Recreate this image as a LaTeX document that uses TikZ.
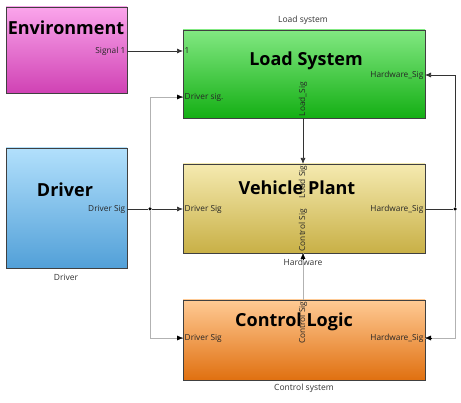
\documentclass[tikz,border=0pt]{standalone}
\usepackage{fontspec}
\setmainfont{Open Sans}
\usepackage{xcolor}
\usetikzlibrary{arrows.meta}
\definecolor{envtop}{RGB}{250,165,235}
\definecolor{envbot}{RGB}{208,66,180}
\definecolor{loadtop}{RGB}{130,232,130}
\definecolor{loadbot}{RGB}{20,175,20}
\definecolor{drvtop}{RGB}{178,224,252}
\definecolor{drvbot}{RGB}{82,160,216}
\definecolor{vehtop}{RGB}{245,234,176}
\definecolor{vehbot}{RGB}{200,176,70}
\definecolor{ctltop}{RGB}{255,202,148}
\definecolor{ctlbot}{RGB}{224,112,16}
\begin{document}
\begin{tikzpicture}[x=1pt,y=-1pt]
\tikzstyle{block} = [rectangle, draw=black!75, line width=0.8pt, inner sep=0pt]
\tikzstyle{envblock} = [block, top color=envtop, bottom color=envbot, minimum width=121pt, minimum height=86pt]
\tikzstyle{loadblock} = [block, top color=loadtop, bottom color=loadbot, minimum width=242pt, minimum height=88pt]
\tikzstyle{drvblock} = [block, top color=drvtop, bottom color=drvbot, minimum width=121pt, minimum height=120pt]
\tikzstyle{vehblock} = [block, top color=vehtop, bottom color=vehbot, minimum width=242pt, minimum height=89pt]
\tikzstyle{ctlblock} = [block, top color=ctltop, bottom color=ctlbot, minimum width=242pt, minimum height=80pt]
\tikzstyle{title} = [font=\bfseries\fontsize{18}{20}\selectfont, inner sep=0pt]
\tikzstyle{port} = [font=\fontsize{8.3}{9}\selectfont, inner sep=1.5pt, text=black!85]
\tikzstyle{caption} = [font=\fontsize{8.5}{10}\selectfont, inner sep=0pt, text=black!80]
\tikzstyle{sig} = [line width=0.7pt, black!80, -{Latex[length=6pt,width=5pt]}]
\tikzstyle{branch} = [line width=0.7pt, black!30]
\tikzstyle{tip} = [-{Latex[length=6pt,width=5pt]}, black]
\tikzstyle{dot} = [circle, fill=black, inner sep=0pt, minimum size=3.5pt]

\useasboundingbox (0,0) rectangle (461,403);

% blocks
\node(environment) [envblock] at (66.5,50) {};
\node(loadSystem) [loadblock] at (304,74) {};
\node(driver) [drvblock] at (66.5,208) {};
\node(vehiclePlant) [vehblock] at (304,208.5) {};
\node(controlLogic) [ctlblock] at (304,340) {};

\node(envTitle) [title] at (66,28) {Environment};
\node(loadTitle) [title] at (306,61) {Load System};
\node(drvTitle) [title] at (65,190) {Driver};
\node(vehTitle) [title] at (297,188) {Vehicle Plant};
\node(ctlTitle) [title] at (294,322) {Control Logic};

\node(loadCap) [caption] at (303,20) {Load system};
\node(drvCap) [caption] at (66,277) {Driver};
\node(vehCap) [caption] at (303,262) {Hardware};
\node(ctlCap) [caption] at (304,388) {Control system};

% ports
\node(envOutLbl) [port, anchor=east] at (127,51) {Signal 1};
\node(loadIn1Lbl) [port, anchor=west] at (183,51) {1};
\node(loadIn2Lbl) [port, anchor=west] at (183,97) {Driver sig.};
\node(loadHwLbl) [port, anchor=east] at (425,75) {Hardware\_Sig};
\node(loadOutLbl) [port, anchor=west, rotate=90] at (303,118) {Load\_Sig};
\node(drvOutLbl) [port, anchor=east] at (127,209) {Driver Sig};
\node(vehInLbl) [port, anchor=west] at (183,209) {Driver Sig};
\node(vehOutLbl) [port, anchor=east] at (425,209) {Hardware\_Sig};
\node(vehTopLbl) [port, anchor=east, rotate=90] at (303,164) {Load Sig};
\node(vehBotLbl) [port, anchor=west, rotate=90] at (303,253) {Control Sig};
\node(ctlInLbl) [port, anchor=west] at (183,338) {Driver Sig};
\node(ctlHwLbl) [port, anchor=east] at (425,338) {Hardware\_Sig};
\node(ctlTopLbl) [port, anchor=east, rotate=90] at (303,300) {Control Sig};

% connection points
\coordinate(envOut) at (127,51);
\coordinate(loadIn1) at (183,51);
\coordinate(loadIn2) at (183,97);
\coordinate(loadHw) at (425,75);
\coordinate(loadOut) at (303,118);
\coordinate(drvOut) at (127,209);
\coordinate(vehIn) at (183,209);
\coordinate(vehOut) at (425,209);
\coordinate(vehTop) at (303,164);
\coordinate(vehBot) at (303,253);
\coordinate(ctlIn) at (183,338);
\coordinate(ctlHw) at (425,338);
\coordinate(ctlTop) at (303,300);
\node(drvSplit) [dot] at (150,209) {};
\node(hwSplit) [dot] at (455,209) {};

% signals
\draw[sig] (envOut) -- (loadIn1);
\draw[line width=0.7pt, black!80] (drvOut) -- (drvSplit);
\draw[sig] (drvSplit) -- (vehIn);
\draw[branch] (drvSplit) |- (loadIn2);
\draw[branch] (drvSplit) |- (ctlIn);
\draw[tip] (loadIn2) ++(-6,0) -- (loadIn2);
\draw[tip] (ctlIn) ++(-6,0) -- (ctlIn);
\draw[sig] (loadOut) -- (vehTop);
\draw[branch] (ctlTop) -- (vehBot);
\draw[tip] (vehBot) ++(0,6) -- (vehBot);
\draw[line width=0.7pt, black!80] (vehOut) -- (hwSplit);
\draw[sig] (hwSplit) |- (loadHw);
\draw[branch] (hwSplit) |- (ctlHw);
\draw[tip] (ctlHw) ++(6,0) -- (ctlHw);
\end{tikzpicture}
\end{document}
